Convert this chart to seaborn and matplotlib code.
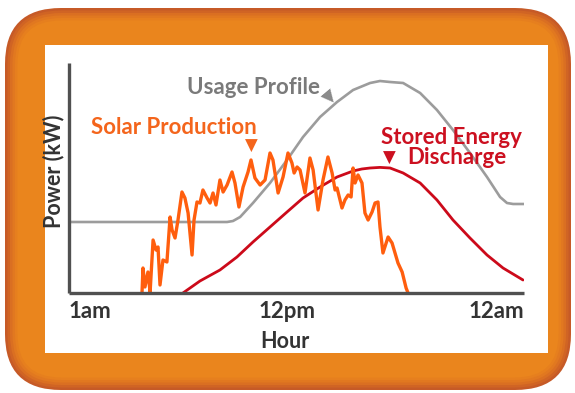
import matplotlib
matplotlib.use("Agg")
import matplotlib.pyplot as plt
from matplotlib.patches import FancyBboxPatch, Rectangle
import pandas as pd
import seaborn as sns

# hours (1am = 1, 12pm = 12, 12am = 24) and power
usage_hour = [1.0, 8.99, 9.29, 9.65, 10.30, 11.16, 12.02, 12.83, 13.69, 14.55, 15.36,
              16.22, 16.72, 17.23, 17.89, 18.75, 19.60, 20.41, 21.27, 22.13, 22.79,
              23.14, 23.45, 24.0]
usage_kw = [3.55, 3.55, 3.6, 3.8, 4.5, 5.5, 6.65, 7.8, 8.8, 9.55, 10.15,
            10.5, 10.6, 10.55, 10.5, 10.0, 9.15, 8.15, 7.0, 5.8, 4.8,
            4.5, 4.45, 4.45]

storage_hour = [6.76, 7.62, 8.63, 9.49, 10.30, 11.16, 12.02, 12.83, 13.69, 14.55, 15.36,
                15.80, 16.22, 16.72, 17.23, 17.89, 18.75, 19.60, 20.41, 21.27, 22.13,
                22.94, 23.95]
storage_kw = [0.0, 0.6, 1.15, 1.8, 2.55, 3.3, 4.05, 4.75, 5.3, 5.8, 6.1,
              6.2, 6.25, 6.28, 6.25, 6.0, 5.5, 4.65, 3.65, 2.75, 1.9,
              1.25, 0.65]

solar_hour = [4.69, 4.74, 4.84, 4.99, 5.10, 5.25, 5.40, 5.50, 5.60, 5.75, 5.95,
              6.11, 6.21, 6.36, 6.51, 6.71, 6.86, 7.02, 7.22, 7.32, 7.47, 7.62,
              7.77, 7.98, 8.13, 8.28, 8.43, 8.63, 8.79, 8.99, 9.24, 9.39, 9.59,
              9.80, 10.05, 10.20, 10.40, 10.66, 10.91, 11.16, 11.31, 11.57, 11.82,
              12.07, 12.27, 12.38, 12.53, 12.68, 12.93, 13.18, 13.34, 13.59, 13.84,
              14.09, 14.30, 14.45, 14.55, 14.80, 14.95, 15.11, 15.26, 15.36, 15.46,
              15.61, 15.81, 15.96, 16.12, 16.32, 16.47, 16.62, 16.72, 16.87, 17.13,
              17.33, 17.48, 17.63, 17.84, 17.94, 18.04, 18.14]
solar_kw = [0.0, 1.25, 0.3, 1.05, 0.05, 2.65, 2.15, 2.3, 0.4, 1.65, 1.55,
            3.8, 3.15, 2.75, 3.65, 5.05, 4.75, 4.0, 1.9, 3.65, 4.55, 4.5,
            5.15, 4.75, 4.5, 5.0, 4.4, 5.65, 5.05, 5.4, 6.05, 5.5, 4.3,
            5.3, 6.05, 6.65, 5.75, 5.4, 5.65, 7.0, 6.65, 5.0, 5.8,
            7.0, 6.5, 6.0, 6.3, 6.15, 5.0, 6.75, 6.15, 4.15, 5.65,
            6.8, 6.0, 5.15, 5.25, 4.25, 4.65, 4.9, 4.8, 6.25, 5.5,
            5.9, 5.5, 4.0, 3.65, 4.05, 4.5, 4.55, 3.3, 2.0, 2.8,
            2.5, 2.0, 1.5, 1.05, 0.65, 0.25, 0.0]

tick_hours = [1, 12, 24]
tick_labels = ["1am", "12pm", "12am"]

usage = pd.DataFrame({"hour": usage_hour, "kw": usage_kw})
storage = pd.DataFrame({"hour": storage_hour, "kw": storage_kw})
solar = pd.DataFrame({"hour": solar_hour, "kw": solar_kw})

sns.set_theme(style="white")
plt.rcParams["font.family"] = ["Lato", "DejaVu Sans"]

W, H = 575, 393
fig = plt.figure(figsize=(W / 100, H / 100), dpi=100, facecolor="white")

# background frame, drawn in pixel units
bg = fig.add_axes([0, 0, 1, 1], zorder=0)
bg.set_xlim(0, W)
bg.set_ylim(H, 0)
bg.axis("off")
shades = ["#C65A27", "#D06424", "#DA6F22", "#E17820", "#E67F1E", "#EA851D"]
for i, c in enumerate(shades):
    d = i * 2.5
    bg.add_patch(FancyBboxPatch((5 + d, 8 + d), 566 - 2 * d, 382 - 2 * d,
                                boxstyle=f"round,pad=0,rounding_size={56 - d}",
                                fc=c, ec="none"))
bg.add_patch(Rectangle((45, 45), 503, 308, fc="white", ec="none"))

# chart
ax = fig.add_axes([69 / W, 1 - 293 / H, 455 / W, 230 / H], zorder=1)
ax.patch.set_alpha(0)
line_kw = dict(solid_joinstyle="round", solid_capstyle="round")
sns.lineplot(data=usage, x="hour", y="kw", ax=ax, color="#9C9C9C", linewidth=1.9, **line_kw)
sns.lineplot(data=storage, x="hour", y="kw", ax=ax, color="#CC0A1A", linewidth=2.0, **line_kw)
sns.lineplot(data=solar, x="hour", y="kw", ax=ax, color="#FF5E0E", linewidth=2.4, **line_kw)

ax.set_xlim(1, 24)
ax.set_ylim(0, 11.5)
ax.set_yticks([])
ax.set_xticks(tick_hours, labels=tick_labels)
ax.tick_params(axis="x", length=0, pad=6, labelsize=16, labelcolor="#333333")
for lab in ax.get_xticklabels():
    lab.set_fontweight("bold")
ax.get_xticklabels()[0].set_ha("left")
ax.get_xticklabels()[-1].set_ha("right")

sns.despine(ax=ax)
for s in ["left", "bottom"]:
    ax.spines[s].set_color("#505050")
    ax.spines[s].set_linewidth(2.4)
    ax.spines[s].set_capstyle("butt")

ax.set_xlabel("Hour", fontsize=15.5, fontweight="bold", color="#333333")
ax.xaxis.set_label_coords(0.475, -0.165)
ax.set_ylabel("Power (kW)", fontsize=15.5, fontweight="bold", color="#333333")
ax.yaxis.set_label_coords(-0.01, 0.53)

# annotations (pixel positions)
pt = bg.transData
txt = dict(transform=pt, fontsize=16, fontweight="bold", va="center", ha="left", zorder=5)
tri = dict(transform=pt, fontsize=12, va="center", ha="center", family=["DejaVu Sans"], zorder=5)
ax.text(187, 88, "Usage Profile", color="#7A7A7A", **txt)
ax.text(330, 97, "▼", color="#8A8A8A", rotation=40, **tri)
ax.text(91, 128, "Solar Production", color="#F4651C", **txt)
ax.text(251, 146, "▼", color="#F4651C", **tri)
ax.text(381, 138, "Stored Energy", color="#CC1020", **txt)
ax.text(389, 158, "▼", color="#CC1020", **tri)
ax.text(407, 158, "Discharge", color="#CC1020", **txt)

fig.savefig("out.png", dpi=100, facecolor="white")
